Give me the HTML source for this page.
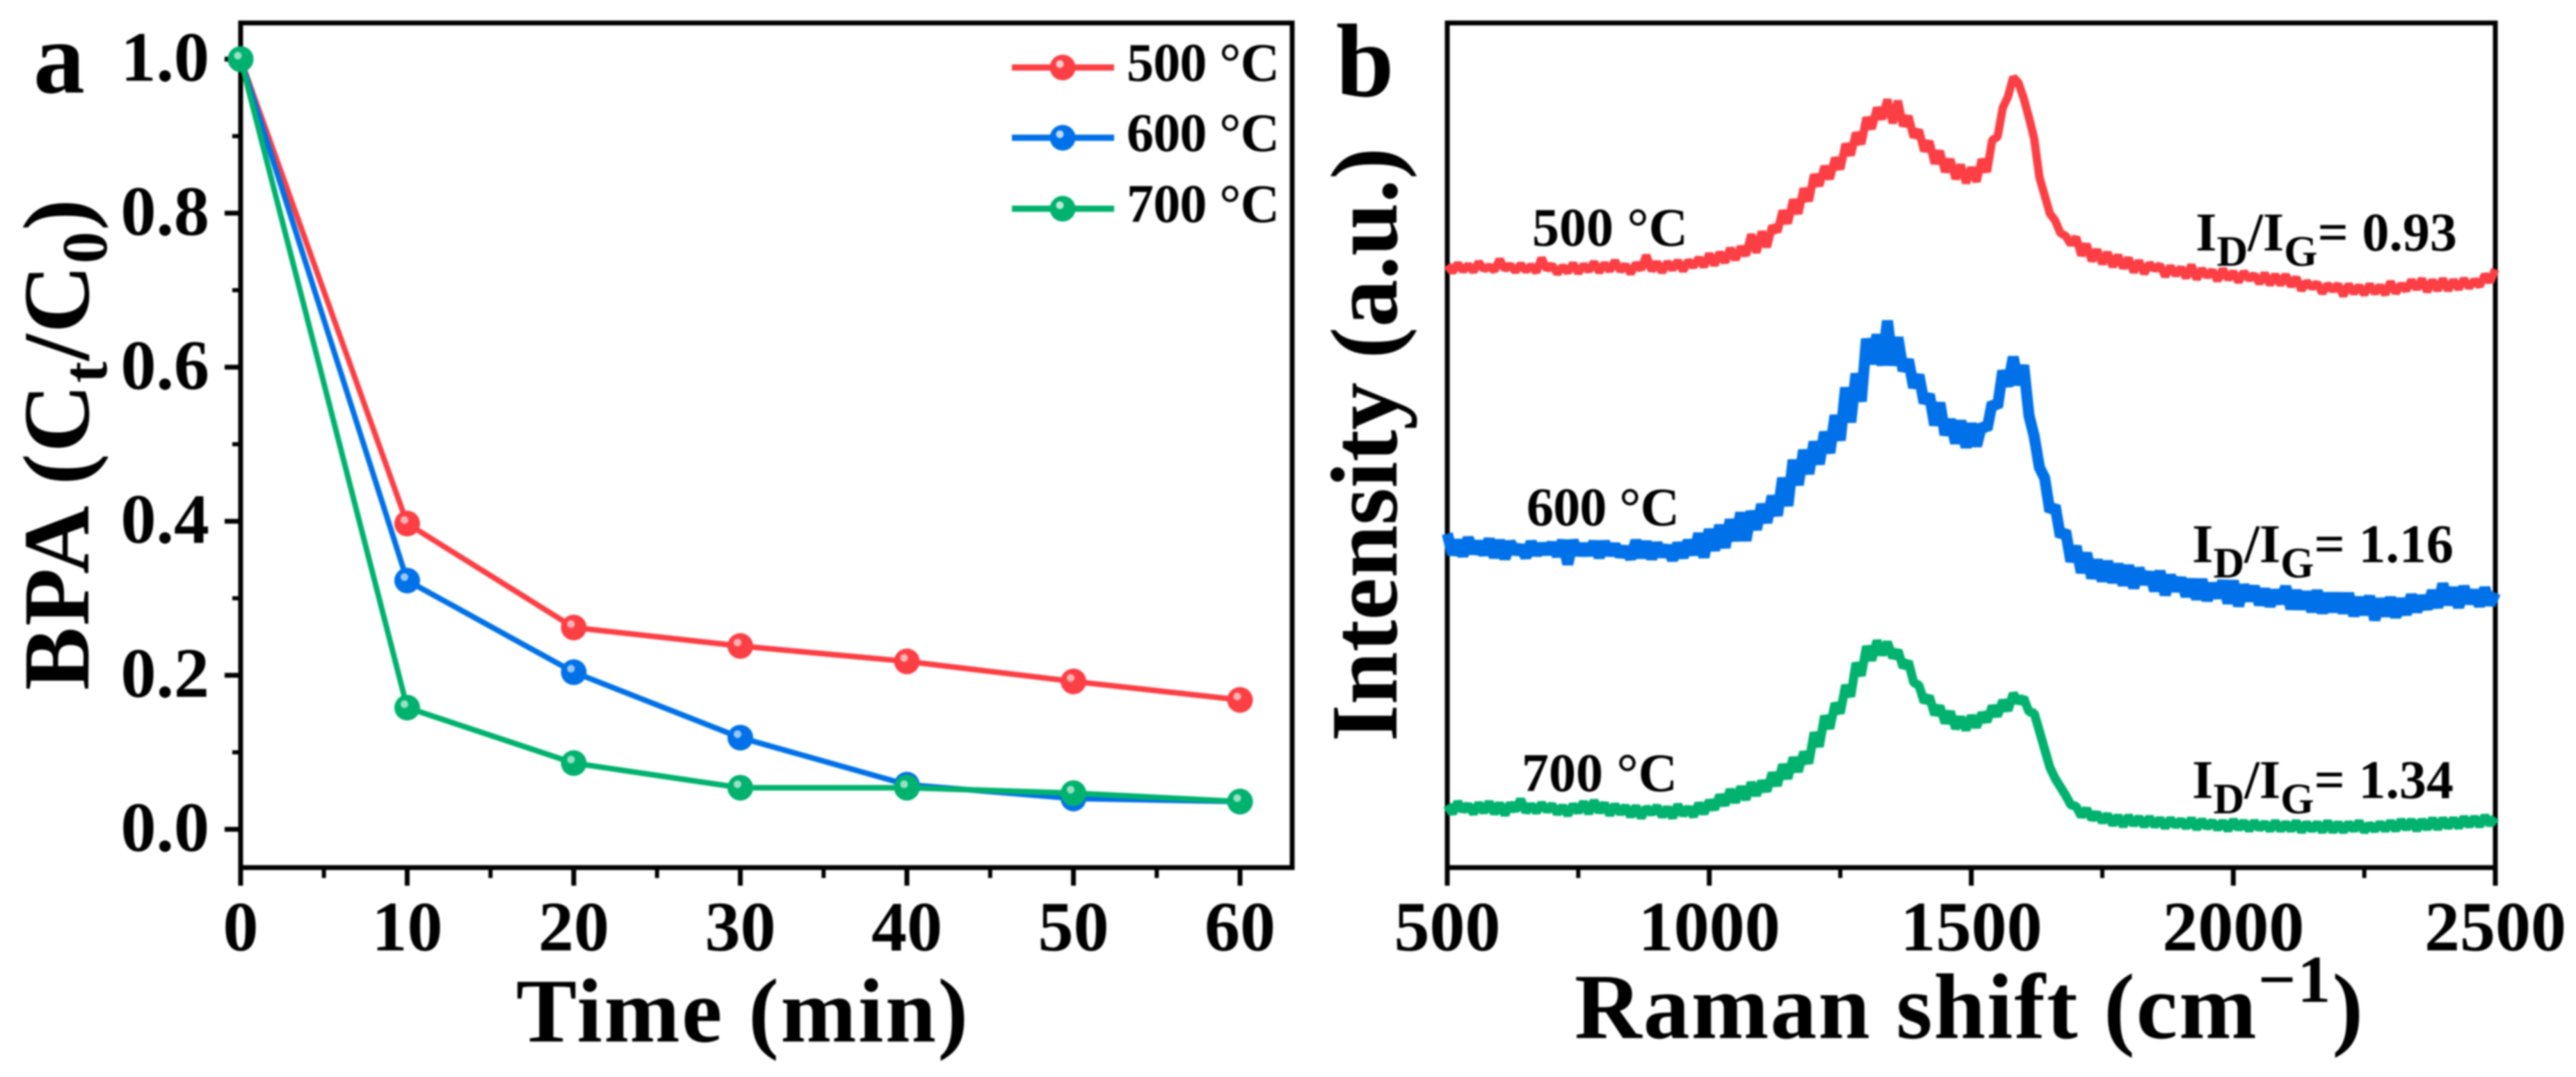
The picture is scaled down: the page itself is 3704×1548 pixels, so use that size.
<!DOCTYPE html>
<html lang="en">
<head>
<meta charset="utf-8">
<title>BPA degradation and Raman spectra</title>
<style>
html,body{margin:0;padding:0;background:#fff;width:3704px;height:1548px;overflow:hidden}
svg{display:block;filter:blur(1.2px)}
text{font-family:"Liberation Serif","Times New Roman",serif;font-weight:bold;fill:#000}
</style>
</head>
<body>
<svg id="figure" xmlns="http://www.w3.org/2000/svg" width="3704" height="1548" viewBox="0 0 3704 1548">
  <rect x="0" y="0" width="3704" height="1548" fill="#fff"/>

  <g id="panel-a"></g>
  <g id="panel-b"></g>

  <text x="48" y="133" font-size="148">a</text>
  <text x="1921" y="138" font-size="150">b</text>

  <text transform="translate(127,992) rotate(-90)" font-size="136" textLength="706">BPA (C<tspan font-size="92" dy="26">t</tspan><tspan dy="-26">/C</tspan><tspan font-size="92" dy="26">0</tspan><tspan dy="-26">)</tspan></text>
  <text x="742" y="1497" font-size="131" textLength="650">Time (min)</text>

  <text transform="translate(2008,1066) rotate(-90)" font-size="137" textLength="854">Intensity (a.u.)</text>
  <text x="2264" y="1492" font-size="134" textLength="1134">Raman shift (cm<tspan font-size="96" dy="-52">−1</tspan><tspan dy="52">)</tspan></text>

  <g>
    <g>
      <line x1="1455" y1="97" x2="1602" y2="97" stroke="#fb3f45" stroke-width="9"/>
      <circle cx="1528" cy="97" r="18.5" fill="#fb3f45"/>
      <circle cx="1524" cy="92" r="5.5" fill="#fff" fill-opacity="0.75"/>
      <text x="1620" y="116" font-size="78" textLength="220">500 °C</text>
    </g>
    <g>
      <line x1="1455" y1="198" x2="1602" y2="198" stroke="#0071e8" stroke-width="9"/>
      <circle cx="1528" cy="198" r="18.5" fill="#0071e8"/>
      <circle cx="1524" cy="193" r="5.5" fill="#fff" fill-opacity="0.75"/>
      <text x="1620" y="217" font-size="78" textLength="220">600 °C</text>
    </g>
    <g>
      <line x1="1455" y1="300" x2="1602" y2="300" stroke="#00b26e" stroke-width="9"/>
      <circle cx="1528" cy="300" r="18.5" fill="#00b26e"/>
      <circle cx="1524" cy="295" r="5.5" fill="#fff" fill-opacity="0.75"/>
      <text x="1620" y="319" font-size="78" textLength="220">700 °C</text>
    </g>
  </g>

  <text x="2203" y="353" font-size="78" textLength="224">500 °C</text>
  <text x="2195" y="755" font-size="78" textLength="220">600 °C</text>
  <text x="2188" y="1137" font-size="78" textLength="224">700 °C</text>

  <text x="3157" y="360" font-size="78">I<tspan font-size="62" dy="22">D</tspan><tspan dy="-22">/I</tspan><tspan font-size="62" dy="22">G</tspan><tspan dy="-22">= 0.93</tspan></text>
  <text x="3152" y="808" font-size="78">I<tspan font-size="62" dy="22">D</tspan><tspan dy="-22">/I</tspan><tspan font-size="62" dy="22">G</tspan><tspan dy="-22">= 1.16</tspan></text>
  <text x="3152" y="1147" font-size="78">I<tspan font-size="62" dy="22">D</tspan><tspan dy="-22">/I</tspan><tspan font-size="62" dy="22">G</tspan><tspan dy="-22">= 1.34</tspan></text>
</svg>

<script>
// ---- Panel a data ----
const timeMinutes = [0, 10, 20, 30, 40, 50, 60];
const bpa500 = [1.0, 0.397, 0.262, 0.238, 0.218, 0.192, 0.168];
const bpa600 = [1.0, 0.323, 0.204, 0.119, 0.058, 0.040, 0.036];
const bpa700 = [1.0, 0.158, 0.086, 0.054, 0.054, 0.047, 0.036];
const aXTickLabels = ['0', '10', '20', '30', '40', '50', '60'];
const aXMinorTicks = [5, 15, 25, 35, 45, 55];
const aYTickLabels = ['0.0', '0.2', '0.4', '0.6', '0.8', '1.0'];
const aYMinorTicks = [0.1, 0.3, 0.5, 0.7, 0.9];

// ---- Panel b data ----
const ramanStart = 500;
const ramanStep = 10;
const bXTickLabels = ['500', '1000', '1500', '2000', '2500'];
const bXMinorTicks = [750, 1250, 1750, 2250];
const raman500 = [
866,856,868,858,866,857,870,860,864,858,
874,860,866,857,867,858,865,856,876,860,
866,854,864,856,868,855,866,858,870,856,
868,858,872,858,866,854,868,860,880,858,
870,856,870,860,872,858,872,864,876,864,
882,866,884,870,890,874,892,880,910,884,
914,892,922,914,944,926,960,940,976,958,
996,980,1008,990,1020,1004,1040,1024,1056,1040,
1078,1062,1092,1076,1104,1070,1102,1066,1080,1050,
1060,1030,1044,1012,1030,1000,1018,990,1010,984,
1006,986,1018,1000,1046,1050,1092,1108,1136,1128,
1106,1078,1048,992,966,940,930,912,908,896,
906,880,896,872,888,868,884,864,880,862,
876,856,872,854,868,860,866,850,864,852,
862,848,866,846,860,850,858,844,860,846,
856,842,856,846,852,840,854,838,852,838,
852,836,848,830,842,834,840,826,838,830,
838,822,838,826,836,824,838,826,836,824,
842,826,838,830,844,832,846,828,844,830,
846,830,844,832,846,834,844,836,852,842,
860];
const raman600 = [
480,450,470,448,474,452,468,450,472,446,
470,444,468,452,462,446,468,450,464,452,
466,448,470,436,470,450,464,450,468,446,
468,450,464,448,460,444,470,446,468,444,
466,448,462,442,466,446,470,450,480,446,
486,456,492,460,500,470,510,470,512,486,
522,496,534,506,560,520,586,550,600,566,
612,580,626,596,650,614,690,640,710,670,
760,724,766,722,786,722,762,714,730,690,
708,668,680,636,668,622,644,610,642,604,
638,606,636,630,668,662,714,692,734,694,
722,650,620,575,560,512,520,476,484,440,
462,424,452,416,442,412,440,410,436,406,
434,402,430,408,424,398,426,392,420,398,
416,390,414,386,414,384,408,388,412,380,
412,376,406,384,404,378,400,376,398,380,
404,372,398,372,396,368,398,366,394,368,
394,366,394,362,388,364,390,356,386,362,
388,360,386,364,392,368,390,372,398,374,
408,378,402,374,404,380,398,376,402,378,
395];
const raman700 = [
90,78,94,82,90,78,92,80,94,78,
92,76,92,82,98,80,90,80,92,82,
90,78,88,76,90,80,94,78,96,80,
92,76,90,78,88,74,88,72,86,78,
88,74,86,72,90,76,86,74,92,78,
96,84,104,90,112,94,116,98,122,104,
124,110,136,118,148,128,158,138,166,150,
194,174,218,200,236,222,262,246,294,276,
318,298,326,306,324,302,312,288,296,266,
262,238,246,220,232,208,224,200,216,198,
218,202,222,210,232,218,240,226,250,238,
244,224,222,196,170,144,128,116,104,90,
88,74,84,70,78,66,76,62,74,60,
74,62,72,60,72,60,70,58,70,60,
68,58,70,56,68,58,66,56,66,54,
68,56,66,54,66,56,64,54,66,54,
64,54,66,52,64,54,64,52,66,52,
64,52,64,54,66,52,62,54,64,54,
66,54,68,56,68,54,68,56,70,56,
70,58,70,58,72,60,72,60,74,62,
72];

const NS = 'http://www.w3.org/2000/svg';
const RED = '#fb3f45', BLUE = '#0071e8', GREEN = '#00b26e';

function make(parent, tag, attrs, text) {
  const el = document.createElementNS(NS, tag);
  for (const k in attrs) el.setAttribute(k, attrs[k]);
  if (text !== undefined) el.textContent = text;
  parent.appendChild(el);
  return el;
}

// Axis functions
const aX = t => 346 + t * 23.95;
const aY = v => 1192 - v * 1107;
const bX = w => 2081 + (w - 500) * 0.7535;
const bY = h => 1247 - h;   // intensity in arbitrary units above the frame bottom

const panelA = document.getElementById('panel-a');
const panelB = document.getElementById('panel-b');

// ---- Panel a axes ----
const frameA = make(panelA, 'rect', {x: 346, y: 33, width: 1512, height: 1214, fill: 'none', stroke: '#000', 'stroke-width': 7});



timeMinutes.forEach((t, i) => {
  const tick = make(panelA, 'line', {x1: aX(t), x2: aX(t), y1: 1247, y2: 1273, stroke: '#000', 'stroke-width': 7});
  
  
  const label = make(panelA, 'text', {x: aX(t), y: 1366, 'font-size': 102, 'text-anchor': 'middle'}, aXTickLabels[i]);
  
  
});
aXMinorTicks.forEach(t => {
  const tick = make(panelA, 'line', {x1: aX(t), x2: aX(t), y1: 1247, y2: 1262, stroke: '#000', 'stroke-width': 6});
  
  
});
aYTickLabels.forEach(s => {
  const v = parseFloat(s);
  const tick = make(panelA, 'line', {x1: 323, x2: 346, y1: aY(v), y2: aY(v), stroke: '#000', 'stroke-width': 7});
  
  
  const label = make(panelA, 'text', {x: 301, y: aY(v) + 31, 'font-size': 102, 'text-anchor': 'end'}, s);
  
  
});
aYMinorTicks.forEach(v => {
  const tick = make(panelA, 'line', {x1: 334, x2: 346, y1: aY(v), y2: aY(v), stroke: '#000', 'stroke-width': 6});
  
  
});

// ---- Panel a series ----
function drawDecay(values, color) {
  const pts = values.map((v, i) => aX(timeMinutes[i]) + ',' + aY(v)).join(' ');
  const line = make(panelA, 'polyline', {points: pts, fill: 'none', stroke: color, 'stroke-width': 8, 'stroke-linejoin': 'round'});
  
  
  values.forEach((v, i) => {
    const marker = make(panelA, 'circle', {cx: aX(timeMinutes[i]), cy: aY(v), r: 18.5, fill: color});
    
    
    const shine = make(panelA, 'circle', {cx: aX(timeMinutes[i]) - 4, cy: aY(v) - 5, r: 5.5, fill: '#fff', 'fill-opacity': 0.6});
    
    
  });
}
drawDecay(bpa500, RED);
drawDecay(bpa600, BLUE);
drawDecay(bpa700, GREEN);

// ---- Panel b axes ----
const frameB = make(panelB, 'rect', {x: 2081, y: 33, width: 1507, height: 1214, fill: 'none', stroke: '#000', 'stroke-width': 7});



bXTickLabels.forEach(s => {
  const w = parseFloat(s);
  const tick = make(panelB, 'line', {x1: bX(w), x2: bX(w), y1: 1247, y2: 1273, stroke: '#000', 'stroke-width': 7});
  
  
  const label = make(panelB, 'text', {x: bX(w), y: 1366, 'font-size': 102, 'text-anchor': 'middle'}, s);
  
  
});
bXMinorTicks.forEach(w => {
  const tick = make(panelB, 'line', {x1: bX(w), x2: bX(w), y1: 1247, y2: 1262, stroke: '#000', 'stroke-width': 6});
  
  
});

// ---- Panel b series ----
function drawSpectrum(values, color, width) {
  const pts = values.map((h, i) => bX(ramanStart + i * ramanStep).toFixed(1) + ',' + bY(h)).join(' ');
  const trace = make(panelB, 'polyline', {points: pts, fill: 'none', stroke: color, 'stroke-width': width, 'stroke-linejoin': 'bevel'});
  
  
}
drawSpectrum(raman500, RED, 12);
drawSpectrum(raman600, BLUE, 16);
drawSpectrum(raman700, GREEN, 13);
</script>
</body>
</html>
